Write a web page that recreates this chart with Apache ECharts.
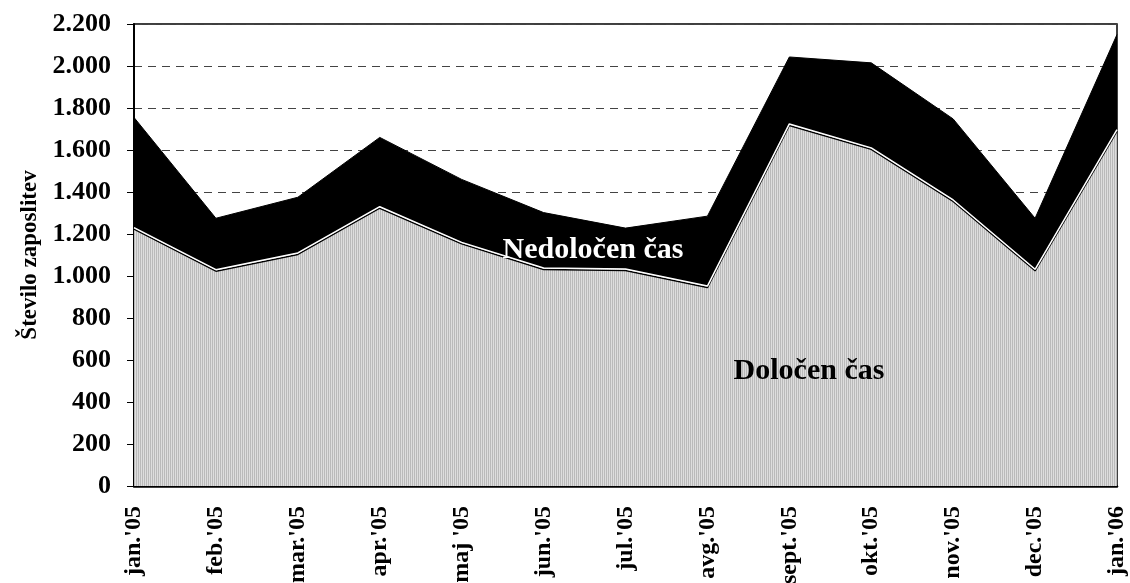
<!DOCTYPE html>
<html>
<head>
<meta charset="utf-8">
<script src="https://cdn.jsdelivr.net/npm/echarts@6/dist/echarts.min.js"></script>
<style>
  html, body { margin: 0; padding: 0; background: #fff; }
  #chart { width: 1130px; height: 583px; }
</style>
</head>
<body>
<div id="chart"></div>
<script>
// podatki
const months = ["jan.'05", "feb.'05", "mar.'05", "apr.'05", "maj '05", "jun.'05", "jul.'05",
  "avg.'05", "sept.'05", "okt.'05", "nov.'05", "dec.'05", "jan.'06"];
const dolocen = [1230, 1030, 1110, 1330, 1160, 1038, 1033, 952, 1724, 1610, 1362, 1032, 1697];
const nedolocen = [525, 245, 265, 330, 300, 264, 195, 333, 319, 405, 386, 243, 453];
const yTicks = { min: 0, max: 2200, interval: 200 };

// sivi vzorec z navpičnimi črtami
const pat = document.createElement('canvas');
pat.width = 2; pat.height = 2;
const pctx = pat.getContext('2d');
pctx.fillStyle = '#dedede'; pctx.fillRect(0, 0, 2, 2);
pctx.fillStyle = '#bababa'; pctx.fillRect(0, 0, 1, 2);

const fmt = v => String(v).replace(/\B(?=(\d{3})+(?!\d))/g, '.');
const font = '"Liberation Serif", "DejaVu Serif", serif';

const chart = echarts.init(document.getElementById('chart'));
const option = {
  animation: false,
  grid: {
    left: 134, right: 13, top: 24, bottom: 97,
    outerBoundsMode: 'none', containLabel: false,
    show: true, borderColor: '#000', borderWidth: 1.5, backgroundColor: 'transparent'
  },
  xAxis: {
    type: 'category',
    data: months,
    boundaryGap: false,
    axisLine: { lineStyle: { color: '#000', width: 2.5 } },
    axisTick: { show: false },
    axisLabel: {
      rotate: 90, margin: 20, interval: 0,
      fontFamily: font, fontWeight: 'bold', fontSize: 24, color: '#000'
    }
  },
  yAxis: {
    type: 'value',
    min: yTicks.min, max: yTicks.max, interval: yTicks.interval,
    name: 'Število zaposlitev',
    nameLocation: 'middle',
    nameGap: 92,
    nameRotate: 90,
    nameTextStyle: { fontFamily: font, fontWeight: 'bold', fontSize: 23, color: '#000' },
    axisLine: { show: true, lineStyle: { color: '#000', width: 2 } },
    axisTick: { show: true, length: 7, lineStyle: { color: '#000', width: 1 } },
    axisLabel: {
      formatter: fmt, margin: 23,
      fontFamily: font, fontWeight: 'bold', fontSize: 26, color: '#000'
    },
    splitLine: { lineStyle: { color: '#444', width: 1, type: [8, 6] } }
  },
  series: [
    {
      name: 'Določen čas',
      type: 'line',
      stack: 'skupaj',
      data: dolocen,
      symbol: 'none',
      lineStyle: { color: '#fff', width: 1.5, shadowColor: '#000', shadowBlur: 0, shadowOffsetY: 1.5 },
      areaStyle: { color: { image: pat, repeat: 'repeat' }, opacity: 1 },
      z: 3
    },
    {
      name: 'Nedoločen čas',
      type: 'line',
      stack: 'skupaj',
      data: nedolocen,
      symbol: 'none',
      lineStyle: { color: '#000', width: 1 },
      areaStyle: { color: '#000', opacity: 1 },
      z: 2
    }
  ],
  graphic: [
    {
      type: 'text', x: 593, y: 250, z: 10,
      style: {
        text: 'Nedoločen čas', fill: '#fff', align: 'center', verticalAlign: 'middle',
        font: 'bold 30px ' + font
      }
    },
    {
      type: 'text', x: 809, y: 371, z: 10,
      style: {
        text: 'Določen čas', fill: '#000', align: 'center', verticalAlign: 'middle',
        font: 'bold 30px ' + font
      }
    }
  ]
};
chart.setOption(option);
</script>
</body>
</html>
